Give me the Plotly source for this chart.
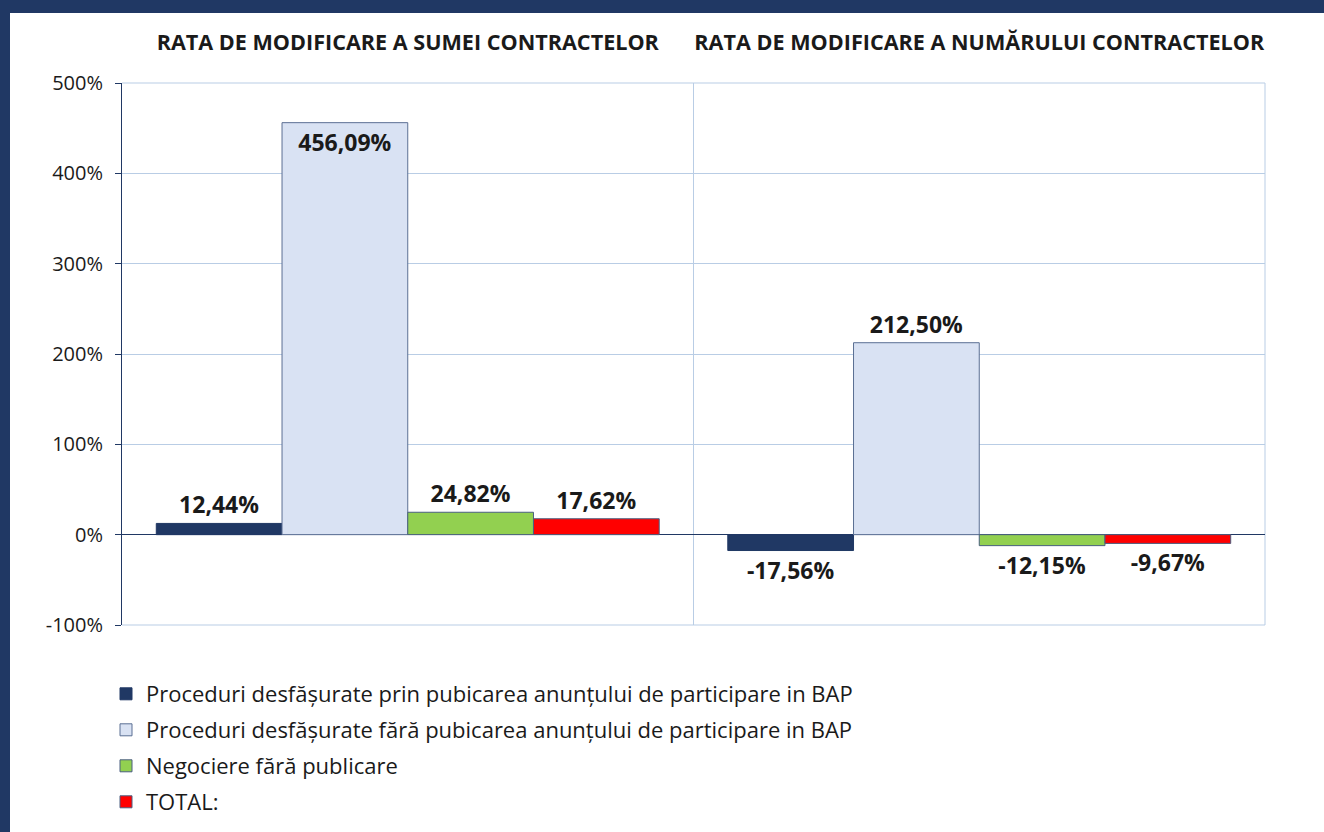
import plotly.graph_objects as go

categories = ["RATA DE MODIFICARE A SUMEI CONTRACTELOR", "RATA DE MODIFICARE A NUMĂRULUI CONTRACTELOR"]
series_names = [
    "Proceduri desfășurate prin pubicarea anunțului de participare in BAP",
    "Proceduri desfășurate fără pubicarea anunțului de participare in BAP",
    "Negociere fără publicare",
    "TOTAL:",
]
series_values = [
    [12.44, -17.56],
    [456.09, 212.50],
    [24.82, -12.15],
    [17.62, -9.67],
]
series_colors = ["#203864", "#D9E2F3", "#92D050", "#FF0000"]
line_colors = ["#203864", "#5B6F93", "#4A5F80", "#4A5F80"]
y_ticks = [-100, 0, 100, 200, 300, 400, 500]
y_ticktext = [f"{v}%" for v in y_ticks]

FONT = "Open Sans"
TXT = "#1a1a1a"
GRID = "#B9CDE5"

W, H = 1324, 832
L, R, T, B = 122, 59, 83, 207
pw, ph = W - L - R, H - T - B
def px_x(x): return (x - L) / pw
def px_y(y): return (H - B - y) / ph

legend_ids = ["legend", "legend2", "legend3", "legend4"]
legend_centers_px = [694, 730, 766, 802]

fig = go.Figure()
for i, (name, vals) in enumerate(zip(series_names, series_values)):
    texts = [f"{v:.2f}%".replace(".", ",") for v in vals]
    positions = ["inside" if v > 300 else "outside" for v in vals]
    fig.add_trace(go.Bar(
        name=name, x=categories, y=vals,
        marker=dict(color=series_colors[i], line=dict(color=line_colors[i], width=1)),
        text=texts, textposition=positions, insidetextanchor="end",
        textfont=dict(family=FONT, size=23, color=TXT),
        outsidetextfont=dict(family=FONT, size=23, color=TXT),
        insidetextfont=dict(family=FONT, size=23, color=TXT),
        cliponaxis=False, legend=legend_ids[i],
        texttemplate="<b>%{text}</b>",
    ))

shapes = [
    dict(type="rect", xref="paper", yref="paper", x0=px_x(0), x1=px_x(W), y0=px_y(13), y1=px_y(0),
         fillcolor="#203864", line=dict(width=0), layer="above"),
    dict(type="rect", xref="paper", yref="paper", x0=px_x(0), x1=px_x(10), y0=px_y(H), y1=px_y(0),
         fillcolor="#203864", line=dict(width=0), layer="above"),
    dict(type="line", xref="paper", yref="paper", x0=1, x1=1, y0=0, y1=1,
         line=dict(color=GRID, width=1), layer="below"),
    dict(type="line", xref="paper", yref="paper", x0=0, x1=1, y0=0, y1=0,
         line=dict(color=GRID, width=1), layer="below"),
    dict(type="line", xref="paper", yref="paper", x0=0, x1=1, y0=1, y1=1,
         line=dict(color=GRID, width=1), layer="below"),
]

legend_layouts = {}
for lid, cy in zip(legend_ids, legend_centers_px):
    legend_layouts[lid] = dict(x=px_x(106), y=px_y(cy), xanchor="left", yanchor="middle",
                               orientation="v", font=dict(family=FONT, size=22, color=TXT),
                               itemwidth=30, bgcolor="rgba(0,0,0,0)")

fig.update_layout(
    width=W, height=H,
    margin=dict(l=L, r=R, t=T, b=B, autoexpand=False),
    paper_bgcolor="white", plot_bgcolor="white",
    barmode="group", bargap=0.12, bargroupgap=0,
    font=dict(family=FONT, color=TXT),
    showlegend=True,
    shapes=shapes,
    xaxis=dict(side="top", tickson="boundaries", showgrid=True, gridcolor=GRID, gridwidth=1,
               ticks="", ticklabelstandoff=28, showline=False, tickangle=0, automargin=False,
               tickfont=dict(family=FONT, size=21.6, color=TXT, weight="bold")),
    yaxis=dict(range=[-100, 500], tickmode="array", tickvals=y_ticks, ticktext=y_ticktext,
               showgrid=True, gridcolor=GRID, gridwidth=1, zeroline=True, automargin=False,
               zerolinecolor="#203864", zerolinewidth=1, showline=True, linecolor="#203864",
               linewidth=1, ticks="outside", ticklen=6, tickcolor="#203864",
               tickfont=dict(family=FONT, size=20, color=TXT), ticklabelstandoff=8),
    **legend_layouts,
)
fig.write_html("out.html", config={"displayModeBar": False},
               post_script="document.body.style.margin='0';")
